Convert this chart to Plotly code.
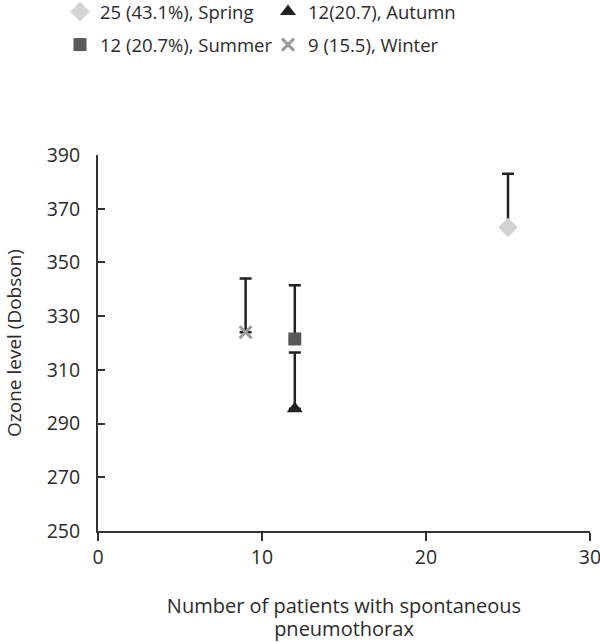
import plotly.graph_objects as go

seasons = ["Spring", "Summer", "Autumn", "Winter"]
labels = ["25 (43.1%), Spring", "12 (20.7%), Summer", "12(20.7), Autumn", "9 (15.5), Winter"]
patients = [25, 12, 12, 9]
ozone = [363, 321.5, 295.5, 324]
ozone_err = [20, 20, 21, 20]

symbols = ["diamond", "square", "triangle-up", "x-thin"]
colors = ["#d3d3d3", "#595959", "#222222", "#9a9a9a"]
sizes = [15, 13, 14, 12]
legends = ["legend", "legend", "legend2", "legend2"]

FONT = "Open Sans"
TXT = "#2b2b2b"
W, H = 600, 642
L, R, T, B = 98, 10, 155, 111
PW, PH = W - L - R, H - T - B


def px_x(x):
    return (x - L) / PW


def px_y(y):
    return (H - B - y) / PH


fig = go.Figure()
for i in range(len(seasons)):
    marker = dict(symbol=symbols[i], color=colors[i], size=sizes[i])
    if symbols[i] == "x-thin":
        marker["line"] = dict(color=colors[i], width=3)
    else:
        marker["line"] = dict(width=0)
    fig.add_trace(go.Scatter(
        x=[patients[i]], y=[ozone[i]], mode="markers", name=labels[i],
        marker=marker, legend=legends[i], legendgroup=seasons[i],
        error_y=dict(type="data", symmetric=False, array=[ozone_err[i]],
                     arrayminus=[0], color="#222222", thickness=2.5, width=6),
    ))

xtitle = ('<span style="font-size:20px">Number of patients with spontaneous</span><br>'
          '<span style="font-size:20px">pneumothorax</span>')

fig.update_layout(
    width=W, height=H,
    margin=dict(l=L, r=R, t=T, b=B, autoexpand=False),
    paper_bgcolor="white", plot_bgcolor="white",
    font=dict(family=FONT, size=19, color=TXT),
    legend=dict(x=px_x(60), y=px_y(-7), xref="paper", yref="paper",
                xanchor="left", yanchor="top", tracegroupgap=6,
                font=dict(size=18.5), bgcolor="rgba(0,0,0,0)"),
    legend2=dict(x=px_x(268), y=px_y(-7), xref="paper", yref="paper",
                 xanchor="left", yanchor="top", tracegroupgap=6,
                 font=dict(size=18.5), bgcolor="rgba(0,0,0,0)"),
    xaxis=dict(range=[0, 30], tickvals=[0, 10, 20, 30], showgrid=False, zeroline=False,
               showline=True, linecolor="#333333", linewidth=2,
               ticks="outside", ticklen=8, tickwidth=2, tickcolor="#333333",
               ticklabeloverflow="allow",
               tickfont=dict(size=19.5, color=TXT),
               title=dict(text=xtitle, font=dict(size=17.7, color=TXT), standoff=40)),
    yaxis=dict(range=[250, 390], tickvals=[250, 270, 290, 310, 330, 350, 370, 390],
               showgrid=False, zeroline=False,
               showline=True, linecolor="#333333", linewidth=2,
               ticks="inside", ticklen=7, tickwidth=2, tickcolor="#333333",
               ticklabelstandoff=12,
               tickfont=dict(size=19.5, color=TXT),
               title=dict(text="Ozone level (Dobson)", font=dict(size=19, color=TXT), standoff=20)),
)

fig.write_html("out.html", config={"displayModeBar": False},
               post_script="document.body.style.margin='0';")
